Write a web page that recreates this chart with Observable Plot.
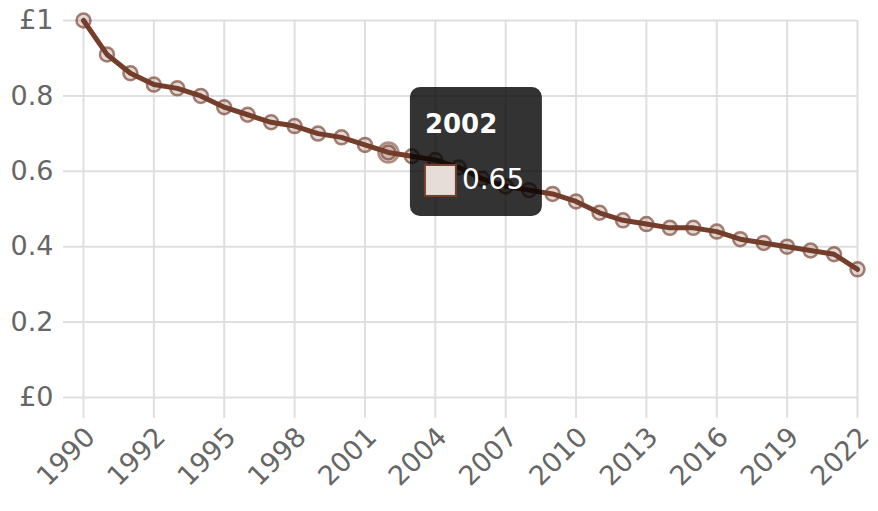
<!DOCTYPE html>
<html>
<head>
<meta charset="utf-8">
<script src="https://cdn.jsdelivr.net/npm/d3@7"></script>
<script src="https://cdn.jsdelivr.net/npm/@observablehq/plot@0.6"></script>
<style>
  html, body { margin: 0; padding: 0; background: #fff; }
  #chart { width: 878px; height: 511px; }
</style>
</head>
<body>
<div id="chart"></div>
<script>
// Category labels for each point (34 points; autoskipped axis shows every 3rd)
const labels = ["1990","1990","1991","1992","1993","1994","1995","1996","1997","1998",
                "1999","2000","2001","2002","2003","2004","2005","2006","2007","2008",
                "2009","2010","2011","2012","2013","2014","2015","2016","2017","2018",
                "2019","2020","2021","2022"];
// Value of £1
const values = [1.00, 0.91, 0.86, 0.83, 0.82, 0.80, 0.77, 0.75, 0.73, 0.72,
                0.70, 0.69, 0.67, 0.65, 0.64, 0.63, 0.61, 0.58, 0.56, 0.55,
                0.54, 0.52, 0.49, 0.47, 0.46, 0.45, 0.45, 0.44, 0.42, 0.41,
                0.40, 0.39, 0.38, 0.34];
// Tick positions (category indices) shown on the x axis
const xTickIndex = [0, 3, 6, 9, 12, 15, 18, 21, 24, 27, 30, 33];
// Y ticks and their labels
const yTickValues = [0, 0.2, 0.4, 0.6, 0.8, 1];
const yTickLabels = ["£0", "0.2", "0.4", "0.6", "0.8", "£1"];
// Hovered point with tooltip
const hoverIndex = 13;

const data = values.map((v, i) => ({ i, label: labels[i], v }));

const GRID = "#dfdfdf";
const BROWN = "#743e2b";
const TICK = "#666666";
const FONT = "'DejaVu Sans', sans-serif";

const plot = Plot.plot({
  width: 878,
  height: 511,
  marginLeft: 83,
  marginRight: 21,
  marginTop: 20,
  marginBottom: 114,
  style: { fontFamily: FONT, background: "white", overflow: "visible" },
  x: { type: "linear", domain: [0, labels.length - 1], label: null },
  y: { domain: [0, 1], label: null },
  marks: [
    Plot.gridX(xTickIndex, { stroke: GRID, strokeOpacity: 1, strokeWidth: 2 }),
    Plot.gridY(yTickValues, { stroke: GRID, strokeOpacity: 1, strokeWidth: 2 }),
    // tick extensions
    Plot.axisX(xTickIndex, { tickSize: 21, stroke: GRID, strokeWidth: 2, tickFormat: () => "", label: null }),
    Plot.axisY(yTickValues, { tickSize: 20, stroke: GRID, strokeWidth: 2, tickFormat: () => "", label: null }),
    // tick labels
    Plot.axisX(xTickIndex, {
      tickSize: 0, tickPadding: 35, tickRotate: -45, dx: 7,
      tickFormat: i => labels[i], fill: TICK, fontSize: 27, label: null
    }),
    Plot.axisY(yTickValues, {
      tickSize: 0, tickPadding: 30,
      tickFormat: d => yTickLabels[yTickValues.indexOf(d)], fill: TICK, fontSize: 27, label: null
    }),
    Plot.line(data, { x: "i", y: "v", stroke: BROWN, strokeWidth: 5, strokeLinejoin: "round", strokeLinecap: "round" }),
    Plot.dot(data, {
      x: "i", y: "v", r: 7, fill: BROWN, fillOpacity: 0.2,
      stroke: BROWN, strokeOpacity: 0.65, strokeWidth: 2.5
    }),
    Plot.dot([data[hoverIndex]], {
      x: "i", y: "v", r: 10, fill: BROWN, fillOpacity: 0.2,
      stroke: BROWN, strokeOpacity: 0.55, strokeWidth: 2.5
    })
  ]
});

document.getElementById("chart").appendChild(plot);

// Tooltip anchored on the hovered point via the plot's scales
const sx = plot.scale("x").apply(hoverIndex);
const sy = plot.scale("y").apply(values[hoverIndex]);
const g = d3.select(plot).append("g")
  .attr("font-family", FONT)
  .attr("text-anchor", "start");
g.append("rect")
  .attr("x", sx + 22).attr("y", sy - 65)
  .attr("width", 132).attr("height", 129)
  .attr("rx", 10).attr("ry", 10)
  .attr("fill", "rgba(0,0,0,0.8)");
g.append("text")
  .attr("x", sx + 37).attr("y", sy - 19)
  .attr("fill", "white").attr("font-weight", "bold").attr("font-size", 26)
  .text(labels[hoverIndex]);
g.append("rect")
  .attr("x", sx + 37).attr("y", sy + 13)
  .attr("width", 31).attr("height", 31)
  .attr("fill", "#e6dcd8").attr("stroke", BROWN).attr("stroke-width", 2);
g.append("text")
  .attr("x", sx + 74).attr("y", sy + 37)
  .attr("fill", "white").attr("font-size", 28)
  .text(values[hoverIndex].toFixed(2));
</script>
</body>
</html>
